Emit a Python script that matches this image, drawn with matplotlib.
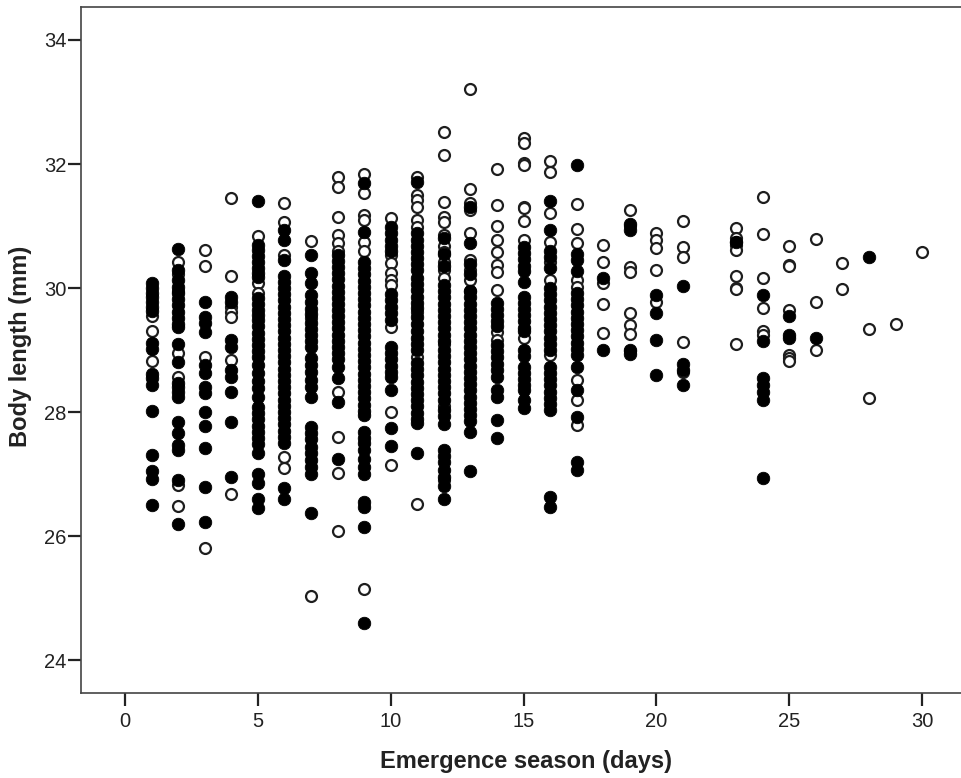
import matplotlib
matplotlib.use("Agg")
import matplotlib.pyplot as plt

plt.rcParams['font.family'] = ['Liberation Sans', 'DejaVu Sans']

days = list(range(1, 31))

filled = {
 1: [30.08, 30.0, 29.92, 29.85, 29.78, 29.7, 29.63, 29.12, 29.02, 28.62, 28.55, 28.44, 28.02, 27.3, 27.05, 26.92, 26.5],
 2: [30.63, 30.29, 30.13, 30.02, 29.92, 29.82, 29.72, 29.62, 29.52, 29.42, 29.37, 29.1, 28.8, 28.47, 28.4, 28.32, 28.24, 27.84, 27.66, 27.47, 27.38, 26.9, 26.19],
 3: [29.77, 29.53, 29.43, 29.29, 28.76, 28.63, 28.4, 28.3, 28.0, 27.77, 27.42, 26.79, 26.23],
 4: [29.85, 29.78, 29.16, 29.05, 28.68, 28.57, 28.32, 27.84, 26.95],
 5: [31.4, 30.7, 30.62, 30.52, 30.42, 30.32, 30.24, 30.18, 29.84, 29.74, 29.64, 29.56, 29.48, 29.38, 29.28, 29.18, 29.08, 28.98, 28.88, 28.76, 28.63, 28.5, 28.38, 28.24, 28.08, 27.98, 27.88, 27.78, 27.68, 27.58, 27.48, 27.34, 27.0, 26.85, 26.6, 26.45],
 6: [30.94, 30.77, 30.45, 30.2, 30.1, 30.0, 29.9, 29.8, 29.7, 29.6, 29.5, 29.4, 29.3, 29.2, 29.1, 29.0, 28.9, 28.8, 28.7, 28.6, 28.5, 28.4, 28.3, 28.2, 28.1, 28.0, 27.9, 27.8, 27.7, 27.6, 27.5, 26.77, 26.6],
 7: [30.53, 30.24, 30.08, 29.89, 29.78, 29.66, 29.58, 29.44, 29.34, 29.24, 29.14, 29.05, 28.87, 28.76, 28.64, 28.52, 28.4, 28.24, 27.76, 27.66, 27.56, 27.44, 27.34, 27.22, 27.12, 27.0, 26.37],
 8: [30.53, 30.44, 30.34, 30.24, 30.14, 30.04, 29.94, 29.84, 29.74, 29.65, 29.55, 29.45, 29.35, 29.25, 29.15, 29.05, 28.95, 28.85, 28.73, 28.55, 28.16, 27.24],
 9: [31.69, 30.9, 30.42, 30.32, 30.22, 30.12, 30.02, 29.92, 29.82, 29.72, 29.62, 29.52, 29.42, 29.32, 29.22, 29.12, 29.02, 28.92, 28.82, 28.72, 28.62, 28.52, 28.42, 28.32, 28.22, 28.12, 28.02, 27.95, 27.68, 27.58, 27.5, 27.38, 27.24, 27.12, 27.0, 26.55, 26.47, 26.15, 24.6],
 10: [30.98, 30.88, 30.78, 30.68, 30.6, 29.9, 29.8, 29.7, 29.6, 29.48, 29.05, 28.95, 28.85, 28.75, 28.65, 28.57, 28.35, 27.74, 27.45],
 11: [31.71, 30.88, 30.78, 30.68, 30.58, 30.48, 30.38, 30.29, 30.16, 30.06, 29.96, 29.86, 29.76, 29.68, 29.53, 29.42, 29.3, 29.2, 29.1, 29.0, 28.79, 28.69, 28.59, 28.49, 28.39, 28.29, 28.19, 28.09, 27.99, 27.89, 27.82, 27.34],
 12: [30.8, 30.55, 30.35, 30.05, 29.95, 29.85, 29.75, 29.65, 29.55, 29.45, 29.35, 29.25, 29.15, 29.0, 28.9, 28.8, 28.7, 28.6, 28.5, 28.4, 28.3, 28.2, 28.03, 27.93, 27.8, 27.39, 27.29, 27.19, 27.07, 26.95, 26.8, 26.6],
 13: [31.3, 30.73, 30.38, 30.22, 29.95, 29.85, 29.75, 29.65, 29.55, 29.45, 29.35, 29.25, 29.15, 29.05, 28.95, 28.85, 28.75, 28.65, 28.55, 28.45, 28.35, 28.25, 28.15, 28.05, 27.95, 27.85, 27.68, 27.05],
 14: [29.76, 29.66, 29.56, 29.46, 29.38, 29.08, 28.98, 28.88, 28.78, 28.68, 28.57, 28.35, 28.24, 27.87, 27.58],
 15: [30.66, 30.56, 30.46, 30.36, 30.28, 30.1, 29.86, 29.76, 29.66, 29.56, 29.46, 29.36, 29.3, 29.0, 28.9, 28.73, 28.63, 28.53, 28.43, 28.35, 28.2, 28.06],
 16: [31.4, 30.94, 30.6, 30.5, 30.32, 30.0, 29.9, 29.8, 29.7, 29.6, 29.5, 29.4, 29.3, 29.2, 29.1, 29.0, 28.73, 28.63, 28.53, 28.43, 28.33, 28.23, 28.13, 28.03, 26.63, 26.47],
 17: [31.98, 30.55, 30.45, 30.28, 29.92, 29.82, 29.72, 29.62, 29.52, 29.42, 29.32, 29.22, 29.12, 29.02, 28.92, 28.73, 28.35, 27.92, 27.2, 27.07],
 18: [30.16, 29.0],
 19: [31.03, 30.94, 29.0, 28.94],
 20: [29.89, 29.6, 29.16, 28.6],
 21: [30.03, 28.77, 28.68, 28.43],
 23: [30.75],
 24: [29.89, 29.15, 28.55, 28.43, 28.32, 28.2, 26.94],
 25: [29.55, 29.24, 29.2],
 26: [29.2],
 28: [30.5],
}

open_ = {
 1: [29.55, 29.3, 28.82],
 2: [30.42, 30.22, 29.95, 28.95, 28.57, 26.82, 26.48],
 3: [30.61, 30.36, 28.89, 25.81],
 4: [31.45, 30.19, 29.7, 29.62, 29.53, 28.84, 26.68],
 5: [30.84, 30.08, 29.92],
 6: [31.37, 31.06, 30.53, 27.27, 27.09],
 7: [30.76, 29.52, 25.03],
 8: [31.79, 31.63, 31.15, 30.85, 30.72, 30.6, 28.33, 27.6, 27.02, 26.08],
 9: [31.84, 31.53, 31.18, 31.1, 30.74, 30.6, 25.15],
 10: [31.13, 30.53, 30.4, 30.24, 30.13, 30.05, 29.37, 28.0, 27.14],
 11: [31.79, 31.5, 31.42, 31.31, 31.1, 30.98, 29.61, 28.89, 26.52],
 12: [32.52, 32.15, 31.39, 31.15, 31.07, 30.85, 30.68, 30.58, 30.42, 30.29, 30.16, 29.1, 28.1, 26.9],
 13: [33.21, 31.6, 31.37, 31.26, 30.89, 30.45, 30.29, 30.13, 29.95],
 14: [31.92, 31.34, 31.0, 30.77, 30.58, 30.37, 30.26, 29.97, 29.29, 29.16],
 15: [32.42, 32.34, 32.02, 31.98, 31.31, 31.29, 31.08, 30.77, 29.19],
 16: [32.05, 31.87, 31.21, 30.74, 30.42, 30.13, 28.92],
 17: [31.36, 30.95, 30.72, 30.13, 30.02, 28.52, 28.2, 27.79],
 18: [30.69, 30.42, 30.08, 29.75, 29.27],
 19: [31.26, 31.0, 30.34, 30.26, 29.6, 29.4, 29.26, 28.98],
 20: [30.88, 30.77, 30.65, 30.29, 29.77],
 21: [31.08, 30.66, 30.5, 29.13, 28.65],
 23: [30.97, 30.8, 30.75, 30.7, 30.62, 30.2, 30.0, 29.98, 29.1],
 24: [31.47, 30.87, 30.16, 29.68, 29.3, 29.25],
 25: [30.68, 30.37, 30.35, 29.65, 28.92, 28.87, 28.82],
 26: [30.79, 29.77, 29.0],
 27: [30.4, 29.98],
 28: [29.34, 28.22],
 29: [29.42],
 30: [30.58],
}

xticks = [0, 5, 10, 15, 20, 25, 30]
yticks = [24, 26, 28, 30, 32, 34]
xlabel = "Emergence season (days)"
ylabel = "Body length (mm)"

W, H = 961, 778
fig = plt.figure(figsize=(W / 100, H / 100), dpi=100)
L, R, T, B = 81, 961, 7, 693
ax = fig.add_axes([L / W, 1 - B / H, (R - L) / W, (B - T) / H])
ax.set_xlim((L - 125.0) / 26.57, (R - 125.0) / 26.57)
ax.set_ylim(24 - (B - 660) / 62.0, 24 + (660 - T) / 62.0)

ink = '#1e1e1e'
ox = [d for d in days for _ in open_.get(d, [])]
oy = [v for d in days for v in open_.get(d, [])]
fx = [d for d in days for _ in filled.get(d, [])]
fy = [v for d in days for v in filled.get(d, [])]
ax.scatter(ox, oy, s=62, facecolor='white', edgecolor=ink, linewidth=1.6, zorder=3, clip_on=False)
ax.scatter(fx, fy, s=81, facecolor='black', edgecolor='black', linewidth=0.6, zorder=4, clip_on=False)

for s in ax.spines.values():
    s.set_linewidth(1.2)
    s.set_color('#444444')
ax.spines['right'].set_visible(False)
ax.set_xticks(xticks)
ax.set_yticks(yticks)
ax.tick_params(axis='both', length=9.4, width=1.6, color='#222222', labelsize=14.5, labelcolor='#222222')
ax.tick_params(axis='x', pad=4)
ax.tick_params(axis='y', pad=1)
ax.set_xlabel(xlabel, fontsize=17, fontweight='bold', color='#222222', labelpad=14, x=0.506)
ax.set_ylabel(ylabel, fontsize=17, fontweight='bold', color='#222222', labelpad=9, y=0.505)
fig.savefig('out.png', dpi=100, facecolor='white')
